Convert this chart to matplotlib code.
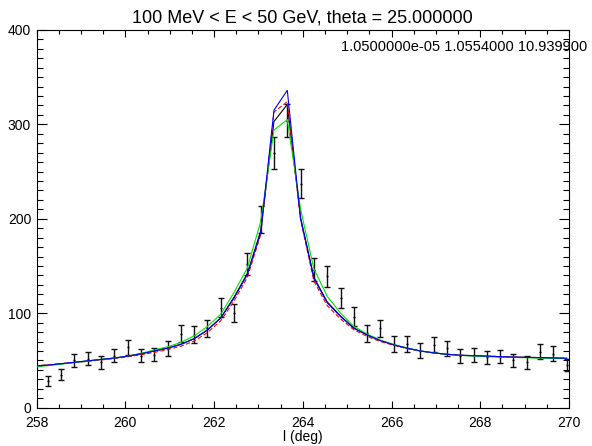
import numpy as np
import matplotlib.pyplot as plt
from matplotlib.ticker import MultipleLocator

plt.rcParams['font.family'] = ['Liberation Sans', 'DejaVu Sans']

# data points (bin centres) and counts with errors
l_deg = [258.25 + 0.3 * k for k in range(40)]
counts = [28, 35, 50, 52, 48, 55, 64, 55, 56, 63,
          78, 77, 84, 106, 100, 152, 199, 270, 304, 237,
          146, 139, 116, 96.5, 79, 84, 67, 67, 60.5, 66.5,
          63, 55, 56, 53.5, 54, 50, 48, 59, 57, 45]
errs = [5, 6, 7, 7, 7, 7, 8, 7, 7, 8,
        9, 9, 9, 10.5, 9.5, 12, 14, 17, 17.5, 15.5,
        12, 11.5, 10.5, 10, 9, 9, 8.5, 8.5, 8, 8,
        8, 7.5, 7.5, 7, 7, 7, 7, 8, 8, 6]

# model curves (one extra point on the left, clipped by the axes)
l_model = [257.95] + l_deg
model_black = [44, 45, 46.5, 48, 49.5, 51, 52.5, 54.5, 57, 60, 63,
               67, 73, 82, 95, 117, 142, 187, 303, 321, 201,
               138, 112, 97, 84.5, 77, 71, 66.5, 63, 60, 58,
               56.5, 55.5, 55, 54.5, 54, 53.5, 53.2, 53, 52.6, 52.2]
model_red = [44.5, 45.3, 46.5, 47.8, 49, 50.5, 52, 53.8, 56, 58.5, 61.5,
             65, 70.5, 79.5, 92, 113, 138, 183, 313, 324, 199,
             134, 108, 94, 82.5, 75.5, 70, 66, 62.5, 59.8, 58,
             56.5, 55.5, 55, 54.5, 54, 53.5, 53.2, 53, 52.8, 52.5]
model_green = [43, 44.5, 46, 47.8, 49.3, 51, 52.5, 54.5, 57.5, 61, 64.5,
               69, 76, 86, 99, 122, 148, 197, 294, 305, 210,
               147, 118, 100, 86, 78, 71.5, 67, 63, 60, 58,
               56.5, 55.3, 54.6, 54, 53.5, 53.2, 52.8, 52.5, 52.2, 52]
model_blue = [44, 45, 46.5, 48, 49.5, 51, 52.5, 54.5, 57, 60, 63,
              67, 73, 82.4, 95, 116, 141, 185, 315, 336, 200,
              137, 111, 96.5, 84, 77, 71, 66.5, 63, 60, 58,
              56.5, 55.5, 55, 54.5, 54, 53.5, 53.2, 53, 52.6, 52.2]

fig = plt.figure(figsize=(5.92, 4.46), dpi=100)
ax = fig.add_axes([0.062, 0.086, 0.899, 0.847])

ax.errorbar(l_deg, counts, yerr=errs, fmt='none', ecolor='#111111',
            elinewidth=1.0, capsize=2.4, capthick=1.0, zorder=2)
ax.plot(l_deg, counts, ls='none', marker='.', ms=1.0, color='black', zorder=2)

ax.plot(l_model, model_black, color='black', lw=0.8, zorder=3)
ax.plot(l_model, model_red, color='red', lw=0.8, ls=(0, (4, 2)), zorder=3)
ax.plot(l_model, model_green, color='#00e600', lw=0.8, zorder=3)
ax.plot(l_model, model_blue, color='blue', lw=0.8, zorder=4)

ax.set_xlim(258, 270)
ax.set_ylim(0, 400)
ax.xaxis.set_major_locator(MultipleLocator(2))
ax.xaxis.set_minor_locator(MultipleLocator(0.5))
ax.yaxis.set_major_locator(MultipleLocator(100))
ax.yaxis.set_minor_locator(MultipleLocator(10))
ax.tick_params(axis='both', which='both', direction='in', top=True, right=True,
               labelsize=10, width=0.8)
ax.tick_params(axis='x', which='major', length=5, pad=6)
ax.tick_params(axis='x', which='minor', length=2.8)
ax.tick_params(axis='y', which='major', length=7.2, pad=4)
ax.tick_params(axis='y', which='minor', length=4)
for s in ax.spines.values():
    s.set_linewidth(0.8)

ax.set_xlabel('l (deg)', fontsize=10, labelpad=0)
ax.set_title('100 MeV < E < 50 GeV, theta = 25.000000', fontsize=13, pad=5)
ax.text(1.035, 0.955, '1.0500000e-05 1.0554000 10.939900', transform=ax.transAxes,
        ha='right', va='center', fontsize=10.5, clip_on=False)

fig.savefig('out.png', dpi=100)
